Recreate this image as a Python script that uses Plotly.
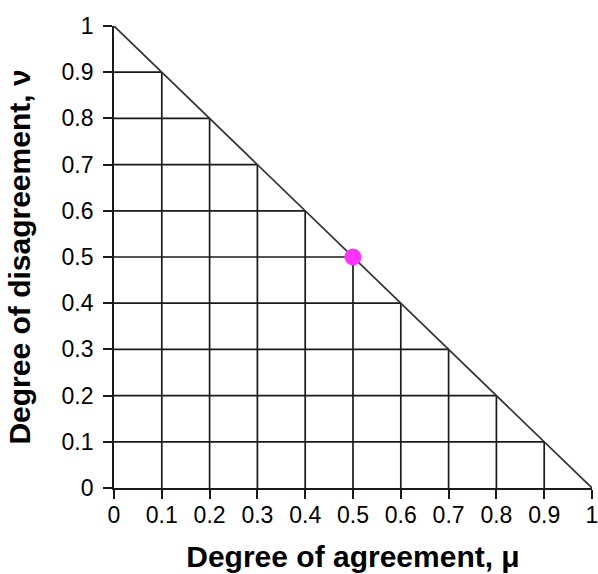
import plotly.graph_objects as go

# Data
tick_values = [0, 0.1, 0.2, 0.3, 0.4, 0.5, 0.6, 0.7, 0.8, 0.9, 1]
tick_labels = ["0", "0.1", "0.2", "0.3", "0.4", "0.5", "0.6", "0.7", "0.8", "0.9", "1"]
grid_levels = [0.1, 0.2, 0.3, 0.4, 0.5, 0.6, 0.7, 0.8, 0.9]
boundary_mu = [0, 1]
boundary_nu = [1, 0]
point_mu = [0.5]
point_nu = [0.5]

x_title = "Degree of agreement, μ"
y_title = "Degree of disagreement, ν"

# Build grid segments inside the triangle mu + nu <= 1
gx, gy = [], []
for g in grid_levels:
    # vertical line at mu = g
    gx += [g, g, None]
    gy += [0, round(1 - g, 10), None]
    # horizontal line at nu = g
    gx += [0, round(1 - g, 10), None]
    gy += [g, g, None]

line_color = "#1a1a1a"
fig = go.Figure()
fig.add_trace(go.Scatter(x=gx, y=gy, mode="lines",
                         line=dict(color=line_color, width=1.7),
                         hoverinfo="skip", showlegend=False, cliponaxis=False))
fig.add_trace(go.Scatter(x=boundary_mu, y=boundary_nu, mode="lines",
                         line=dict(color="#333333", width=1.7),
                         hoverinfo="skip", showlegend=False, cliponaxis=False))
fig.add_trace(go.Scatter(x=point_mu, y=point_nu, mode="markers",
                         marker=dict(color="#ff33ff", size=17, line=dict(width=0)),
                         showlegend=False, cliponaxis=False))

font_family = "Liberation Sans, Arial, sans-serif"
axis_common = dict(
    range=[0, 1],
    tickvals=tick_values,
    ticktext=tick_labels,
    showgrid=False,
    zeroline=False,
    showline=True,
    linecolor=line_color,
    linewidth=1.7,
    ticks="outside",
    ticklen=9,
    tickwidth=1.7,
    tickcolor=line_color,
    tickfont=dict(family=font_family, size=23, color="#000000"),
    ticklabeloverflow="allow",
    fixedrange=True,
)

fig.update_layout(
    width=598, height=574,
    margin=dict(l=114, r=6, t=26, b=86, autoexpand=False),
    paper_bgcolor="white",
    plot_bgcolor="white",
    font=dict(family=font_family, color="#000000"),
    xaxis=dict(**axis_common,
               ticklabelstandoff=-3,
               title=dict(text="<b>" + x_title + "</b>",
                          font=dict(family=font_family, size=30, color="#000000"),
                          standoff=19)),
    yaxis=dict(**axis_common,
               ticklabelstandoff=5,
               title=dict(text="<b>" + y_title + "</b>",
                          font=dict(family=font_family, size=30, color="#000000"),
                          standoff=22)),
)

# Remove the default page margin so the 598x574 figure fills the window exactly
fig.write_html("out.html",
               config={"displayModeBar": False},
               post_script="document.body.style.margin='0';document.body.style.overflow='hidden';")
